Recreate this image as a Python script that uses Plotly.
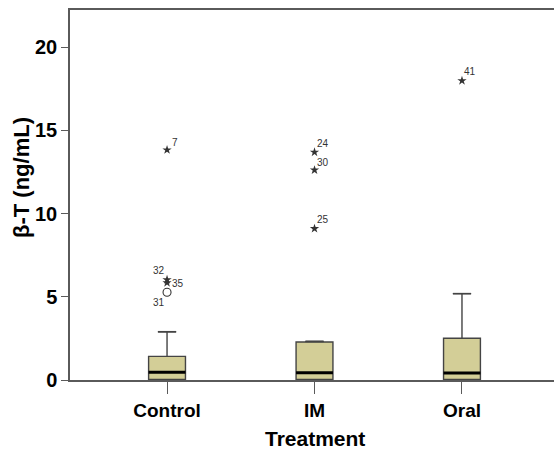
import plotly.graph_objects as go

categories = ["Control", "IM", "Oral"]
positions = [0, 1, 2]
q1 = [0.04, 0.04, 0.04]
median = [0.46, 0.44, 0.42]
q3 = [1.42, 2.28, 2.51]
lower_fence = [0.0, 0.0, 0.0]
upper_fence = [2.90, 2.32, 5.19]

# extreme outliers (stars)
star_x = [0, 0, 0, 1, 1, 1, 2]
star_y = [13.83, 6.03, 5.85, 13.69, 12.62, 9.10, 17.99]
star_labels = ["7", "32", "35", "24", "30", "25", "41"]
# mild outliers (circles)
circle_x = [0]
circle_y = [5.27]
circle_labels = ["31"]

# label offsets in pixels (dx, dy)
star_offsets = [(8, 7), (-8, 9), (11, -1), (8, 9), (8, 8), (8, 9), (8, 9)]
circle_offsets = [(-8, -10)]

BOX_W = 0.25
CAP_W = 0.122
FILL = "#D3CE97"
EDGE = "#444444"
AXIS = "#5a5a5a"
FONT = "Liberation Sans"

fig = go.Figure()

for i, c in enumerate(categories):
    fig.add_trace(go.Box(
        x=[positions[i]], q1=[q1[i]], median=[median[i]], q3=[q3[i]],
        lowerfence=[lower_fence[i]], upperfence=[upper_fence[i]],
        width=BOX_W, fillcolor=FILL, line=dict(color=EDGE, width=1.4),
        boxpoints=False, showlegend=False, hoverinfo="skip", name=c,
    ))

# whisker caps
cap_x, cap_y = [], []
for i in range(len(categories)):
    for f in (lower_fence[i], upper_fence[i]):
        cap_x += [positions[i] - CAP_W / 2, positions[i] + CAP_W / 2, None]
        cap_y += [f, f, None]
fig.add_trace(go.Scatter(x=cap_x, y=cap_y, mode="lines",
                         line=dict(color=EDGE, width=1.6),
                         showlegend=False, hoverinfo="skip"))

# thick medians
med_x, med_y = [], []
for i in range(len(categories)):
    med_x += [positions[i] - BOX_W / 2, positions[i] + BOX_W / 2, None]
    med_y += [median[i], median[i], None]
fig.add_trace(go.Scatter(x=med_x, y=med_y, mode="lines",
                         line=dict(color="black", width=3),
                         showlegend=False, hoverinfo="skip"))

fig.add_trace(go.Scatter(x=star_x, y=star_y, mode="markers",
                         marker=dict(symbol="star", size=7, color="#333333"),
                         showlegend=False, hoverinfo="skip"))
fig.add_trace(go.Scatter(x=circle_x, y=circle_y, mode="markers",
                         marker=dict(symbol="circle-open", size=8,
                                     color="#333333", line=dict(width=1.1)),
                         showlegend=False, hoverinfo="skip"))

ann = []
for x, y, t, (dx, dy) in zip(star_x, star_y, star_labels, star_offsets):
    ann.append(dict(x=x, y=y, xref="x", yref="y", text=t, showarrow=False,
                    xshift=dx, yshift=dy, font=dict(family=FONT, size=10, color="#333333")))
for x, y, t, (dx, dy) in zip(circle_x, circle_y, circle_labels, circle_offsets):
    ann.append(dict(x=x, y=y, xref="x", yref="y", text=t, showarrow=False,
                    xshift=dx, yshift=dy, font=dict(family=FONT, size=10, color="#333333")))

ann.append(dict(x=1, y=0, xref="x", yref="paper", text="Treatment", showarrow=False,
                yshift=-58, yanchor="middle",
                font=dict(family=FONT, size=21, color="black", weight="bold")))
ann.append(dict(x=0, y=0.546, xref="paper", yref="paper", text="β-T (ng/mL)",
                showarrow=False, textangle=-90, xshift=-48, xanchor="center",
                yanchor="middle",
                font=dict(family=FONT, size=22, color="black", weight="bold")))

fig.update_layout(
    width=554, height=452,
    margin=dict(l=70, r=0, t=10, b=72),
    paper_bgcolor="white", plot_bgcolor="white",
    annotations=ann,
    xaxis=dict(range=[-0.658, 2.624], tickvals=positions, ticktext=categories,
               showgrid=False, zeroline=False, showline=True, mirror=True,
               linecolor=AXIS, linewidth=1.5, ticks="outside", ticklen=12,
               tickcolor=AXIS, tickwidth=1.3,
               tickfont=dict(family=FONT, size=19, color="black", weight="bold")),
    yaxis=dict(range=[0, 22.24], tickvals=[0, 5, 10, 15, 20],
               showgrid=False, zeroline=False, showline=True, mirror=False,
               linecolor=AXIS, linewidth=1.5, ticks="outside", ticklen=7,
               tickcolor=AXIS, tickwidth=1.3,
               tickfont=dict(family=FONT, size=20, color="black", weight="bold")),
)

fig.write_html("out.html", config={"displayModeBar": False},
               post_script="document.body.style.margin='0';document.body.style.overflow='hidden';")
